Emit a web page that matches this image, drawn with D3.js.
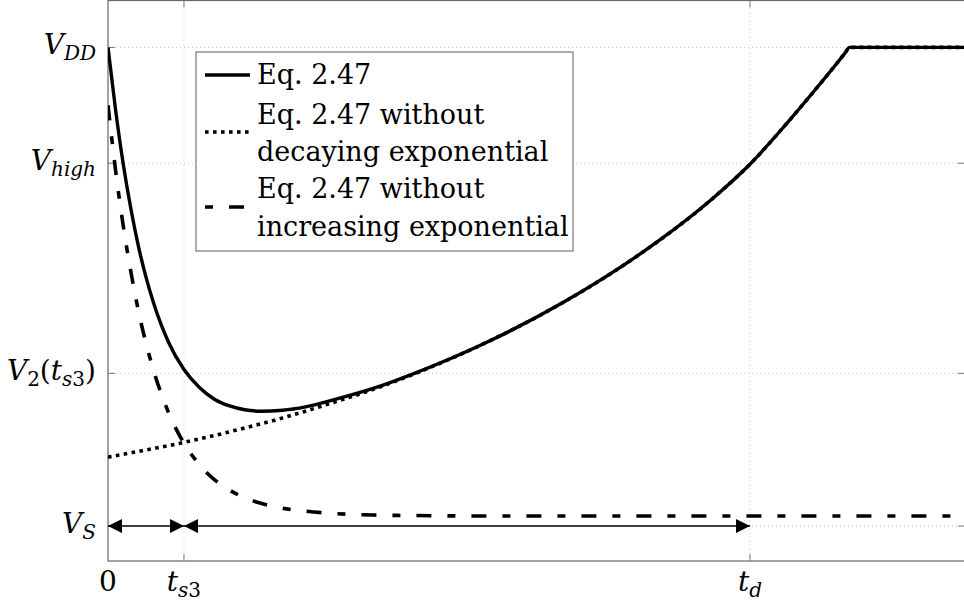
<!DOCTYPE html>
<html>
<head>
<meta charset="utf-8">
<script src="https://cdn.jsdelivr.net/npm/d3@7"></script>
<style>
  body { margin: 0; background: #fff; }
  svg { display: block; font-family: "DejaVu Serif", "Liberation Serif", serif; }
</style>
</head>
<body>
<svg id="chart" width="964" height="603"></svg>
<script>
// time axis in units of t_s3, voltage normalised so V_S = 0 and V_DD = 1
const tValues = [0, 0.1, 0.2, 0.3, 0.4, 0.5, 0.6, 0.8, 1.0, 1.2, 1.4, 1.6, 1.8, 2.0, 2.3, 2.6, 3.0, 3.5, 4, 5, 6, 7, 8, 8.45, 8.9, 9.3, 9.6, 9.7, 9.76, 10.5, 11.3];
const fullEq = [1.0, 0.869, 0.757, 0.664, 0.585, 0.520, 0.466, 0.383, 0.327, 0.290, 0.265, 0.251, 0.243, 0.240, 0.242, 0.249, 0.265, 0.288, 0.317, 0.385, 0.468, 0.568, 0.690, 0.756, 0.835, 0.910, 0.968, 0.988, 1.0, 1.0, 1.0];
const noDecaying = [0.144, 0.147, 0.150, 0.153, 0.156, 0.159, 0.162, 0.168, 0.175, 0.182, 0.189, 0.197, 0.205, 0.213, 0.226, 0.240, 0.260, 0.286, 0.316, 0.385, 0.468, 0.568, 0.690, 0.756, 0.835, 0.910, 0.968, 0.988, 1.0, 1.0, 1.0];
const noIncreasing = [0.879, 0.743, 0.628, 0.532, 0.450, 0.382, 0.325, 0.236, 0.173, 0.129, 0.097, 0.075, 0.059, 0.048, 0.037, 0.031, 0.026, 0.023, 0.022, 0.021, 0.021, 0.021, 0.021, 0.021, 0.021, 0.021, 0.021, 0.021, 0.021, 0.021, 0.021];

const xTicks = [0, 1, 8.45];             // 0, t_s3, t_d
const yTicks = [0, 0.319, 0.758, 1];     // V_S, V2(t_s3), V_high, V_DD

const svg = d3.select("#chart");
const plotLeft = 108, plotRight = 965, plotTop = 0.5, plotBottom = 561;

const x = d3.scaleLinear().domain([0, 11.28]).range([plotLeft, plotRight]);
const y = d3.scaleLinear().domain([-0.073, 1.098]).range([plotBottom, plotTop]);

const defs = svg.append("defs");
defs.append("clipPath").attr("id", "plotClip")
    .append("rect")
    .attr("x", plotLeft).attr("y", plotTop)
    .attr("width", plotRight - plotLeft).attr("height", plotBottom - plotTop);

defs.append("marker")
    .attr("id", "head")
    .attr("viewBox", "0 -7 14 14")
    .attr("refX", 14)
    .attr("refY", 0)
    .attr("markerUnits", "userSpaceOnUse")
    .attr("markerWidth", 14)
    .attr("markerHeight", 14)
    .attr("orient", "auto-start-reverse")
    .append("path")
    .attr("d", "M0,-7L14,0L0,7Z")
    .style("fill", "#000");

// dotted grid
const grid = svg.append("g").attr("clip-path", "url(#plotClip)");
grid.selectAll(".vgrid")
    .data(xTicks.slice(1))
    .enter().append("line")
    .attr("x1", d => x(d)).attr("x2", d => x(d))
    .attr("y1", plotTop).attr("y2", plotBottom)
    .style("stroke", "#c4c4c4").style("stroke-width", 1)
    .style("stroke-dasharray", "1 3");
grid.selectAll(".hgrid")
    .data(yTicks)
    .enter().append("line")
    .attr("x1", plotLeft).attr("x2", plotRight)
    .attr("y1", d => y(d)).attr("y2", d => y(d))
    .style("stroke", "#c4c4c4").style("stroke-width", 1)
    .style("stroke-dasharray", "1 3");

// frame and ticks
svg.append("rect")
    .attr("x", plotLeft).attr("y", plotTop)
    .attr("width", plotRight - plotLeft).attr("height", plotBottom - plotTop)
    .style("fill", "none").style("stroke", "#666").style("stroke-width", 1.2);

const ticks = svg.append("g").style("stroke", "#777").style("stroke-width", 1);
xTicks.slice(1).forEach(t => {
    ticks.append("line").attr("x1", x(t)).attr("x2", x(t)).attr("y1", plotBottom).attr("y2", plotBottom - 7);
    ticks.append("line").attr("x1", x(t)).attr("x2", x(t)).attr("y1", plotTop).attr("y2", plotTop + 7);
});
yTicks.forEach(v => {
    ticks.append("line").attr("x1", plotLeft).attr("x2", plotLeft + 7).attr("y1", y(v)).attr("y2", y(v));
    ticks.append("line").attr("x1", plotRight).attr("x2", plotRight - 7).attr("y1", y(v)).attr("y2", y(v));
});

// curves
const line = d3.line()
    .x(d => x(d[0]))
    .y(d => y(d[1]))
    .curve(d3.curveMonotoneX);

const curves = svg.append("g").attr("clip-path", "url(#plotClip)");
curves.append("path")
    .attr("d", line(tValues.map((t, i) => [t, noDecaying[i]])))
    .style("fill", "none").style("stroke", "#000").style("stroke-width", 3.6)
    .style("stroke-dasharray", "3.6 4.4");
curves.append("path")
    .attr("d", line(tValues.map((t, i) => [t, noIncreasing[i]])))
    .style("fill", "none").style("stroke", "#000").style("stroke-width", 3.6)
    .style("stroke-dasharray", "15 16 8 16");
curves.append("path")
    .attr("d", line(tValues.map((t, i) => [t, fullEq[i]])))
    .style("fill", "none").style("stroke", "#000").style("stroke-width", 3.4)
    .style("stroke-linejoin", "round");

// time interval arrows at V_S
[[xTicks[0], xTicks[1]], [xTicks[1], xTicks[2]]].forEach(([a, b]) => {
    svg.append("line")
        .attr("x1", x(a)).attr("x2", x(b))
        .attr("y1", y(0)).attr("y2", y(0))
        .style("stroke", "#000").style("stroke-width", 1.4)
        .attr("marker-start", "url(#head)")
        .attr("marker-end", "url(#head)");
});

// tick labels
const fs = 28, sub = 20;
function mathLabel(sel, parts) {
    parts.forEach(p => {
        const ts = sel.append("tspan").text(p.s);
        if (p.it) ts.style("font-style", "italic");
        if (p.sub) ts.attr("font-size", sub);
        if (p.dy) ts.attr("dy", p.dy);
    });
}
const yLabelParts = [
    [{ s: "V", it: 1 }, { s: "S", it: 1, sub: 1, dy: 6 }],
    [{ s: "V", it: 1 }, { s: "2", sub: 1, dy: 6 }, { s: "(", dy: -6 }, { s: "t", it: 1 }, { s: "s", it: 1, sub: 1, dy: 6 }, { s: "3", sub: 1 }, { s: ")", dy: -6 }],
    [{ s: "V", it: 1 }, { s: "high", it: 1, sub: 1, dy: 6 }],
    [{ s: "V", it: 1 }, { s: "DD", it: 1, sub: 1, dy: 6 }]
];
yTicks.forEach((v, i) => {
    const t = svg.append("text")
        .attr("x", 96).attr("y", y(v) + 7)
        .attr("text-anchor", "end")
        .attr("font-size", fs);
    mathLabel(t, yLabelParts[i]);
});
const xLabelParts = [
    [{ s: "0" }],
    [{ s: "t", it: 1 }, { s: "s", it: 1, sub: 1, dy: 6 }, { s: "3", sub: 1 }],
    [{ s: "t", it: 1 }, { s: "d", it: 1, sub: 1, dy: 6 }]
];
xTicks.forEach((t, i) => {
    const el = svg.append("text")
        .attr("x", x(t)).attr("y", 591)
        .attr("text-anchor", "middle")
        .attr("font-size", fs);
    mathLabel(el, xLabelParts[i]);
});

// legend
const legendSize = 27;
const legend = svg.append("g");
legend.append("rect")
    .attr("x", 196).attr("y", 52).attr("width", 377).attr("height", 199)
    .style("fill", "#fff").style("stroke", "#777").style("stroke-width", 1.2);

const legendItems = [
    { lines: ["Eq. 2.47"], sy: 75, dash: null, base: [84] },
    { lines: ["Eq. 2.47 without", "decaying exponential"], sy: 132, dash: "3.6 4.4", off: 0, base: [124, 161] },
    { lines: ["Eq. 2.47 without", "increasing exponential"], sy: 207, dash: "15 16 8 16", off: 31, base: [198, 236] }
];
legendItems.forEach(item => {
    const l = legend.append("line")
        .attr("x1", 205).attr("x2", 250)
        .attr("y1", item.sy).attr("y2", item.sy)
        .style("stroke", "#000").style("stroke-width", 3.6);
    if (item.dash) l.style("stroke-dasharray", item.dash).style("stroke-dashoffset", item.off);
    item.lines.forEach((s, j) => {
        legend.append("text")
            .attr("x", 257).attr("y", item.base[j])
            .attr("font-size", legendSize)
            .text(s);
    });
});
</script>
</body>
</html>
